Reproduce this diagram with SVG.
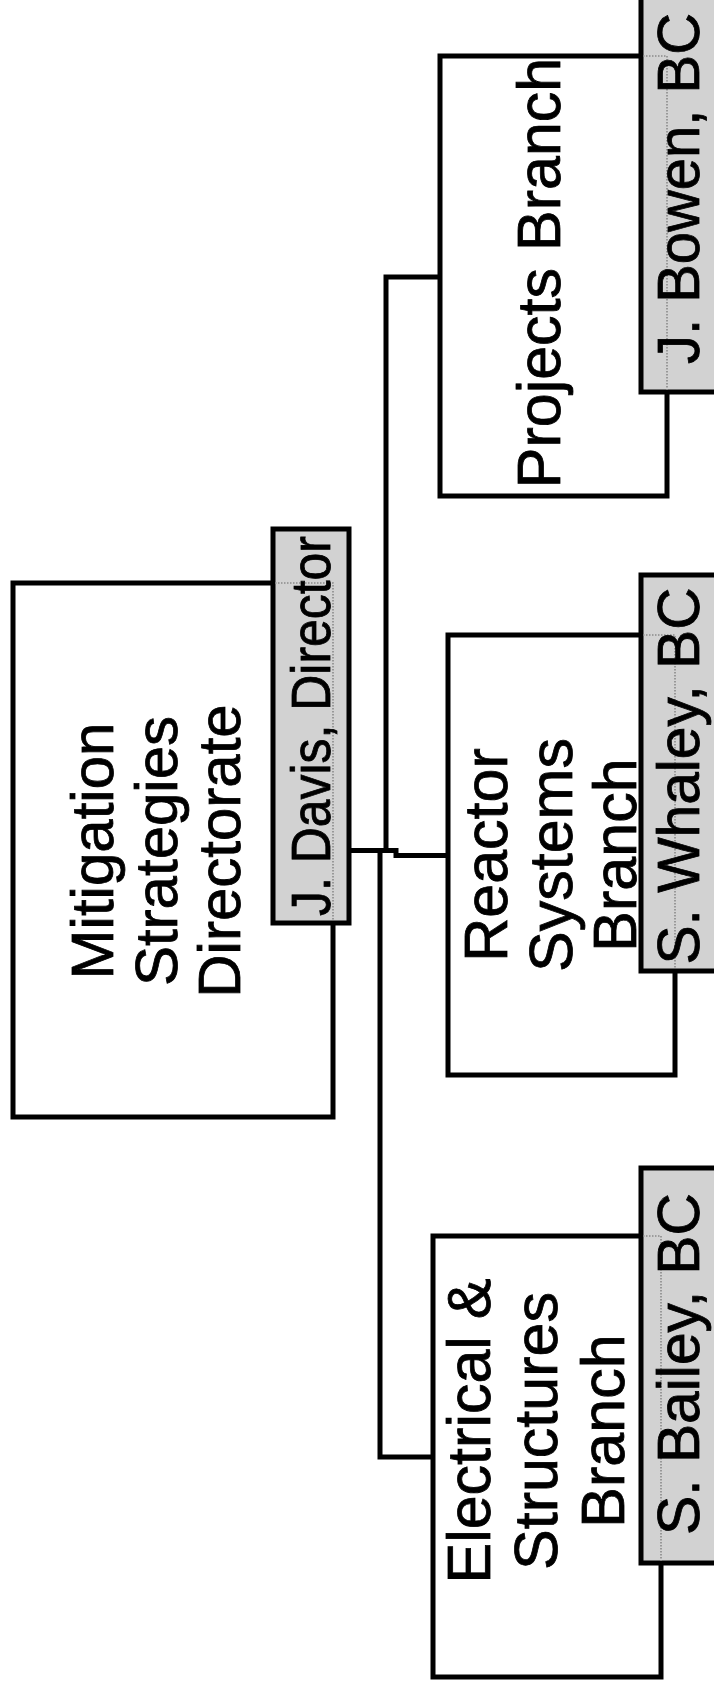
<svg xmlns="http://www.w3.org/2000/svg" width="714" height="1688" viewBox="0 0 714 1688">
<style>
.box{fill:#fff;stroke:#000;stroke-width:5}
.lab{fill:#d2d2d2;stroke:#000;stroke-width:5}
.dot{fill:none;stroke:#8a8a8a;stroke-width:1.6;stroke-dasharray:1.5 1.5}
.t{font-family:"Liberation Sans",Arial,sans-serif;fill:#000;stroke:#000;stroke-width:0.8;text-anchor:middle}
.big{font-size:61px}
.mid{font-size:60px}
.conn{fill:none;stroke:#000;stroke-width:5;stroke-linejoin:miter}
</style>
<rect width="714" height="1688" fill="#fff"/>
<g id="connectors">
<path class="conn" d="M348 850.5 H396 V855.5 H448"/>
<path class="conn" d="M386 851 V277 H440"/>
<path class="conn" d="M380 852 V1457 H433"/>
</g>
<g id="directorate">
<rect class="box" x="13" y="583" width="320" height="534"/>
<text class="t" style="font-size:60px" transform="translate(113,851) rotate(-90)">Mitigation</text>
<text class="t" style="font-size:60px" transform="translate(176.5,851) rotate(-90)">Strategies</text>
<text class="t" style="font-size:60px" transform="translate(240,851) rotate(-90)">Directorate</text>
</g>
<g id="director">
<rect class="lab" x="273" y="529" width="76" height="394"/>
<path class="dot" d="M275 583 H333 V921"/>
<text class="t" style="font-size:55px" textLength="380" lengthAdjust="spacingAndGlyphs" transform="translate(330,726) rotate(-90)">J. Davis, Director</text>
</g>
<g id="projects">
<rect class="box" x="440" y="56" width="227" height="440"/>
<text class="t big" transform="translate(560,273) rotate(-90)">Projects Branch</text>
</g>
<g id="bowen">
<rect class="lab" x="641" y="-10" width="80" height="402"/>
<path class="dot" d="M643 56 H667 V390"/>
<text class="t mid" style="text-anchor:start" textLength="351" lengthAdjust="spacingAndGlyphs" transform="translate(699,364) rotate(-90)">J. Bowen, BC</text>
</g>
<g id="reactor">
<rect class="box" x="448" y="635" width="227" height="440"/>
<text class="t big" transform="translate(507,855) rotate(-90)">Reactor</text>
<text class="t big" transform="translate(572,855) rotate(-90)">Systems</text>
<text class="t big" transform="translate(636,855) rotate(-90)">Branch</text>
</g>
<g id="whaley">
<rect class="lab" x="641" y="575" width="80" height="396"/>
<path class="dot" d="M643 635 H675 V969"/>
<text class="t mid" textLength="377" lengthAdjust="spacingAndGlyphs" transform="translate(699,776) rotate(-90)">S. Whaley, BC</text>
</g>
<g id="electrical">
<rect class="box" x="433" y="1236" width="228" height="441"/>
<text class="t big" transform="translate(490,1431) rotate(-90)">Electrical &amp;</text>
<text class="t big" transform="translate(557,1431) rotate(-90)">Structures</text>
<text class="t big" transform="translate(624,1431) rotate(-90)">Branch</text>
</g>
<g id="bailey">
<rect class="lab" x="641" y="1168" width="80" height="395"/>
<path class="dot" d="M643 1236 H661 V1561"/>
<text class="t mid" textLength="342" lengthAdjust="spacingAndGlyphs" transform="translate(699,1364) rotate(-90)">S. Bailey, BC</text>
</g>
</svg>
